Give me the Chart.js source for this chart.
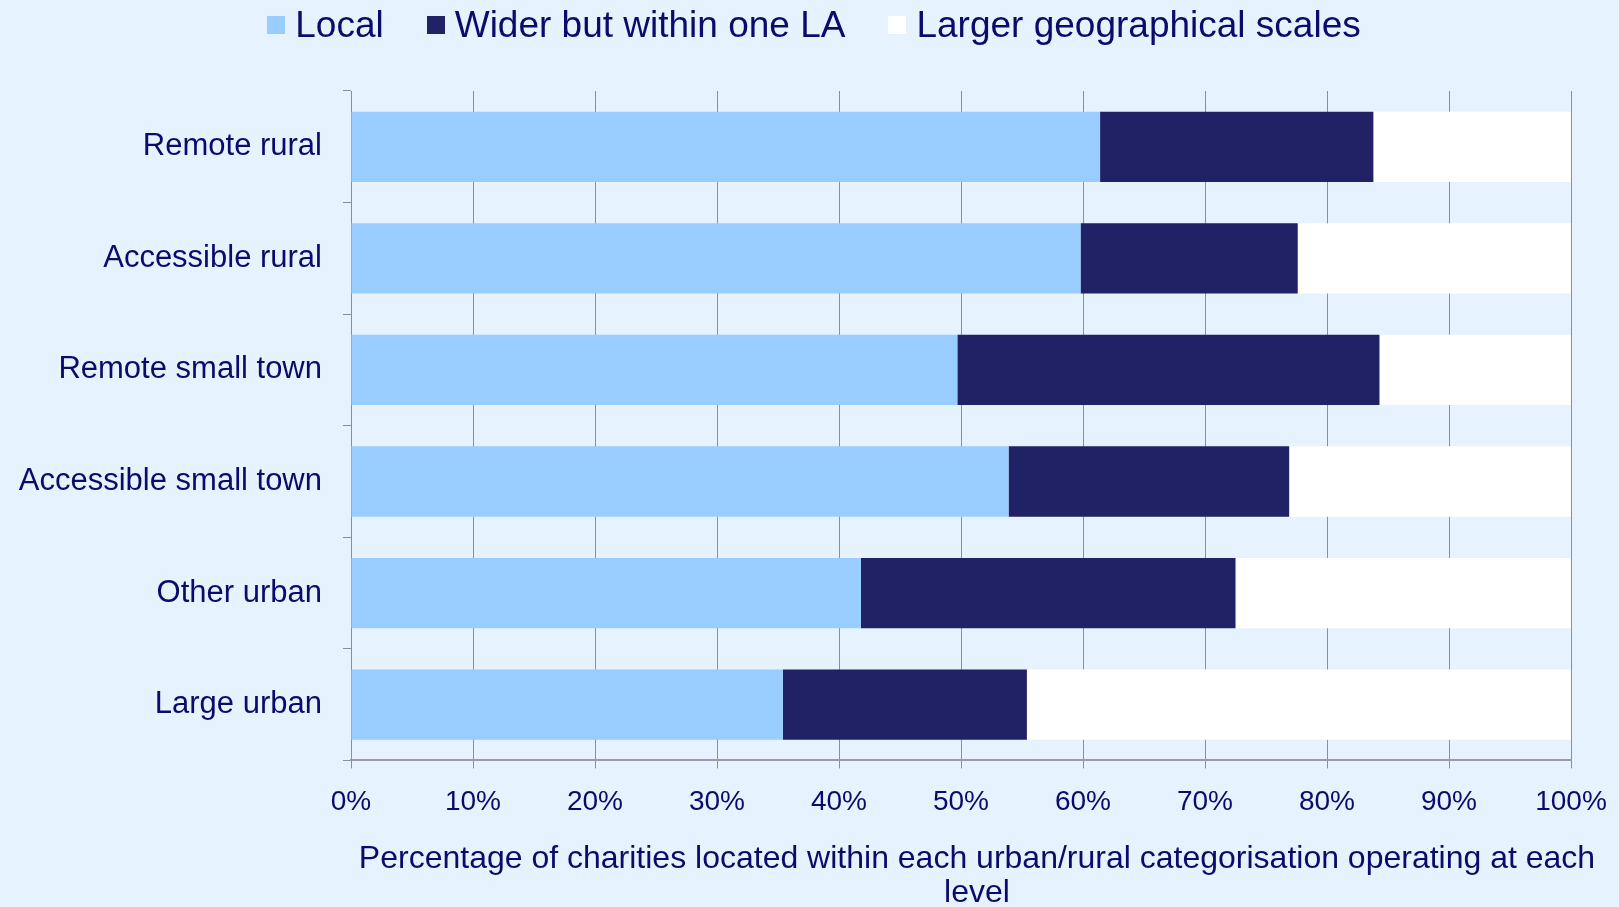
<!DOCTYPE html>
<html lang="en">
<head>
    <meta charset="UTF-8">
    <title>Charities by urban/rural categorisation</title>
    <script src="https://cdn.jsdelivr.net/npm/chart.js"></script>
    <style>
        body { margin: 0; background: #e6f3ff; font-family: "Liberation Sans", Arial, sans-serif; }
        #wrap { position: relative; width: 1619px; height: 907px; }
        #legend {
            position: absolute; top: 7px; left: 9px; right: 0;
            display: flex; justify-content: center; gap: 43px;
            font-size: 37px; line-height: 36px; color: #0b0b6b;
        }
        #legend .item { display: flex; align-items: center; }
        #legend .box { width: 18px; height: 18px; margin-right: 10px; }
    </style>
</head>
<body>

    <div id="wrap">
        <div id="legend"></div>
        <canvas id="chart"></canvas>
    </div>

    <script>
        const categories = ['Remote rural', 'Accessible rural', 'Remote small town', 'Accessible small town', 'Other urban', 'Large urban'];
        const localVals = [61.4, 59.8, 49.7, 53.9, 41.8, 35.4];
        const widerVals = [22.4, 17.8, 34.6, 23.0, 30.7, 20.0];
        const largerVals = [16.2, 22.4, 15.7, 23.1, 27.5, 44.6];
        const xTicks = [0, 10, 20, 30, 40, 50, 60, 70, 80, 90, 100];
        const xTitle = ['Percentage of charities located within each urban/rural categorisation operating at each', 'level'];

        const textColor = '#0b0b6b';
        const gridColor = '#8c8ca2';

        // the axis title in the original is wider than the plot, so it is drawn here
        // instead of with the scale title (which squeezes it to the plot width)
        const xTitlePlugin = {
            id: 'xTitle',
            afterDraw(chart) {
                const ctx = chart.ctx;
                const area = chart.chartArea;
                const cx = (area.left + area.right) / 2 + 16;
                ctx.save();
                ctx.font = '32px "Liberation Sans"';
                ctx.fillStyle = textColor;
                ctx.textAlign = 'center';
                ctx.textBaseline = 'middle';
                xTitle.forEach((line, i) => {
                    ctx.fillText(line, cx, chart.height - 48 + i * 34);
                });
                ctx.restore();
            }
        };

        const chart = new Chart(document.getElementById('chart'), {
            type: 'bar',
            data: {
                labels: categories,
                datasets: [
                    { label: 'Local', data: localVals, backgroundColor: '#99ccff' },
                    { label: 'Wider but within one LA', data: widerVals, backgroundColor: '#212166' },
                    { label: 'Larger geographical scales', data: largerVals, backgroundColor: '#ffffff' }
                ]
            },
            options: {
                indexAxis: 'y',
                responsive: true,
                maintainAspectRatio: false,
                animation: false,
                layout: { padding: { top: 91, right: 48, left: 0, bottom: 71 } },
                datasets: { bar: { barPercentage: 0.63, categoryPercentage: 1 } },
                plugins: {
                    legend: { display: false },
                    tooltip: { enabled: false }
                },
                scales: {
                    x: {
                        stacked: true,
                        min: 0,
                        max: 100,
                        afterBuildTicks: (scale) => {
                            scale.ticks = xTicks.map(v => ({ value: v }));
                        },
                        afterFit: (scale) => {
                            // let the layout padding alone decide where the plot ends
                            scale.paddingLeft = 0;
                            scale.paddingRight = 0;
                        },
                        ticks: {
                            color: textColor,
                            padding: 17,
                            maxRotation: 0,
                            font: { family: 'Liberation Sans', size: 28 },
                            callback: (v) => v + '%'
                        },
                        grid: { color: gridColor, lineWidth: 1, tickLength: 8 },
                        border: { color: '#9a9aae', width: 2 }
                    },
                    y: {
                        stacked: true,
                        afterFit: (scale) => { scale.width = 351; },
                        ticks: {
                            color: textColor,
                            padding: 21,
                            font: { family: 'Liberation Sans', size: 31 }
                        },
                        grid: { offset: true, drawOnChartArea: false, color: gridColor, tickLength: 8 },
                        border: { color: gridColor, width: 1 }
                    }
                }
            },
            plugins: [xTitlePlugin]
        });

        // legend drawn in html, built from the datasets
        const legendElem = document.getElementById('legend');
        chart.data.datasets.forEach(ds => {
            const item = document.createElement('div');
            item.className = 'item';
            item.innerHTML = '<span class="box" style="background:' + ds.backgroundColor + '"></span><span>' + ds.label + '</span>';
            legendElem.appendChild(item);
        });
    </script>

</body>
</html>
